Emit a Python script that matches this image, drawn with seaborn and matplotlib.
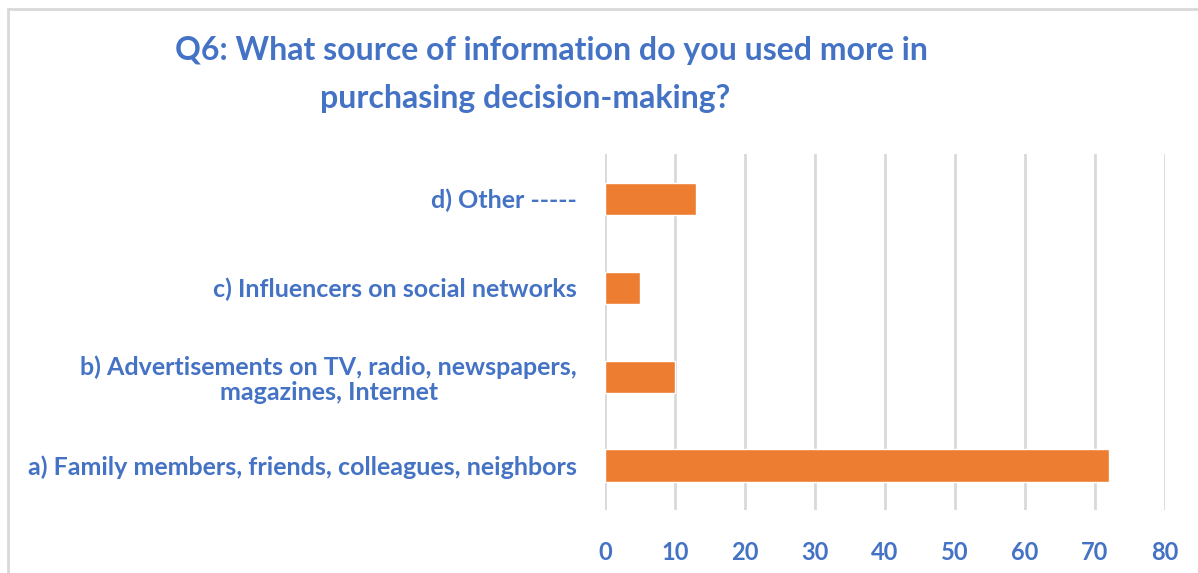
import pandas as pd
import seaborn as sns
from matplotlib import pyplot as plt
from matplotlib.lines import Line2D

sources = [
    "d) Other -----",
    "c) Influencers on social networks",
    "b) Advertisements on TV, radio, newspapers,\nmagazines, Internet",
    "a) Family members, friends, colleagues, neighbors",
]
counts = [13, 5, 10, 72]
x_ticks = [0, 10, 20, 30, 40, 50, 60, 70, 80]

blue = "#4472C4"
orange = "#ED7D31"

sns.set_theme(style="white")
plt.rcParams['font.family'] = ['Lato', 'DejaVu Sans']

df = pd.DataFrame({"source": sources, "count": counts})

fig = plt.figure(figsize=(11.98, 5.73), dpi=100)
ax = fig.add_axes([0.505, 0.110, 0.4675, 0.621])

sns.barplot(data=df, y="source", x="count", order=sources, color=orange,
            width=0.36, saturation=1, ax=ax)

ax.set_xlim(0, 80)
ax.set_xticks(x_ticks)
ax.set_xlabel("")
ax.set_ylabel("")
ax.grid(axis="x", color="#D9D9D9", linewidth=2)
ax.set_axisbelow(True)
for s in ax.spines.values():
    s.set_visible(False)
ax.tick_params(axis="x", length=0, pad=22, labelsize=17, labelcolor=blue)
ax.tick_params(axis="y", length=0, pad=20, labelsize=18, labelcolor=blue)
for lab in ax.get_xticklabels():
    lab.set_fontweight("bold")
for lab in ax.get_yticklabels():
    lab.set_fontweight("bold")
    lab.set_multialignment("center")
    lab.set_linespacing(1.1)

fig.text(0.46, 0.912, "Q6: What source of information do you used more in",
         ha="center", va="center", fontsize=23, fontweight="bold", color=blue)
fig.text(0.438, 0.828, "purchasing decision-making?",
         ha="center", va="center", fontsize=23, fontweight="bold", color=blue)

# light chart border (top and left edges visible)
fig.add_artist(Line2D([8 / 1198, 1], [1 - 9 / 573, 1 - 9 / 573],
                      transform=fig.transFigure, color="#D9D9D9", linewidth=2))
fig.add_artist(Line2D([8 / 1198, 8 / 1198], [0, 1 - 9 / 573],
                      transform=fig.transFigure, color="#D9D9D9", linewidth=2))

plt.savefig("out.png", dpi=100)
